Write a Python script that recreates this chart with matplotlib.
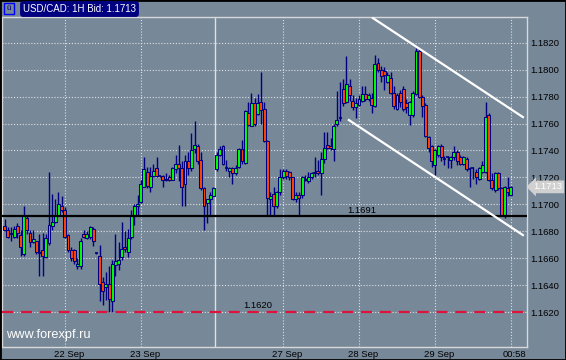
import matplotlib
matplotlib.use("Agg")
import matplotlib.pyplot as plt
from matplotlib.patches import Rectangle
from matplotlib.transforms import ScaledTranslation, blended_transform_factory
import numpy as np

plt.rcParams['font.family'] = ['Liberation Sans', 'DejaVu Sans']

# hourly bars, USD/CAD bid
opens = [1.1684, 1.1681, 1.1678, 1.1676, 1.1684, 1.1677, 1.1663, 1.1690, 1.1679, 1.1672,
         1.1673, 1.1664, 1.1666, 1.1661, 1.1671, 1.1684, 1.1687, 1.1692, 1.1699, 1.1696,
         1.1677, 1.1666, 1.1666, 1.1654, 1.1654, 1.1678, 1.1675,
         1.1676, 1.1682, 1.1664, 1.1662, 1.1642, 1.1639, 1.1641, 1.1628, 1.1655, 1.1656,
         1.1661, 1.1668, 1.1665, 1.1676, 1.1692, 1.1699, 1.1702, 1.1713, 1.1724, 1.1713,
         1.1721, 1.1727, 1.1721, 1.1721, 1.1718, 1.1720, 1.1718, 1.1726,
         1.1730, 1.1727, 1.1715, 1.1732, 1.1727, 1.1741, 1.1743, 1.1733, 1.1712, 1.1701,
         1.1704, 1.1706, 1.1726, 1.1737, 1.1743, 1.1727, 1.1725, 1.1727, 1.1723, 1.1728,
         1.1741, 1.1731, 1.1768, 1.1758, 1.1775, 1.1767, 1.1776, 1.1771, 1.1747,
         1.1704, 1.1708, 1.1699, 1.1709, 1.1720, 1.1725, 1.1724, 1.1720, 1.1704, 1.1707,
         1.1707, 1.1719, 1.1717, 1.1720, 1.1723, 1.1725, 1.1723, 1.1734, 1.1744, 1.1743,
         1.1741, 1.1760, 1.1764, 1.1786, 1.1776, 1.1788,
         1.1777, 1.1772, 1.1774, 1.1777, 1.1782, 1.1778, 1.1779, 1.1773, 1.1805, 1.1800,
         1.1799, 1.1791, 1.1794, 1.1783, 1.1771, 1.1783, 1.1786, 1.1775, 1.1766, 1.1766,
         1.1782, 1.1814, 1.1780, 1.1774, 1.1750, 1.1743, 1.1729, 1.1737,
         1.1743, 1.1734, 1.1735, 1.1733, 1.1735, 1.1739, 1.1735, 1.1730, 1.1734, 1.1726,
         1.1727, 1.1724, 1.1719, 1.1724, 1.1724, 1.1766, 1.1718, 1.1711, 1.1723, 1.1712,
         1.1692, 1.1712, 1.1707]
highs = [1.1689, 1.1683, 1.1683, 1.1684, 1.1686, 1.1681, 1.1699, 1.1691, 1.1681, 1.1681,
         1.1673, 1.1678, 1.1679, 1.1678, 1.1724, 1.1708, 1.1704, 1.1709, 1.1706, 1.1698,
         1.1678, 1.1668, 1.1667, 1.1660, 1.1675, 1.1681, 1.1680,
         1.1684, 1.1683, 1.16645, 1.1670, 1.1646, 1.1650, 1.1654, 1.1659, 1.1678, 1.1672,
         1.1687, 1.1680, 1.1682, 1.1696, 1.1700, 1.1707, 1.1718, 1.1735, 1.1728, 1.1728,
         1.1730, 1.1735, 1.1722, 1.1722, 1.1723, 1.1722, 1.1728, 1.1737,
         1.1744, 1.1732, 1.1737, 1.1739, 1.1753, 1.1762, 1.1745, 1.1739, 1.1713, 1.1704,
         1.1709, 1.1713, 1.1739, 1.1743, 1.1744, 1.1733, 1.1728, 1.1728, 1.1729, 1.1742,
         1.1748, 1.1770, 1.1776, 1.1783, 1.1779, 1.1782, 1.1798, 1.1776, 1.1748,
         1.1709, 1.1713, 1.1710, 1.1726, 1.1726, 1.1726, 1.1725, 1.1720, 1.1709, 1.1709,
         1.1721, 1.1722, 1.1724, 1.1724, 1.1735, 1.1733, 1.1739, 1.1754, 1.1754, 1.1749,
         1.1760, 1.1784, 1.1791, 1.1793, 1.1810, 1.1793,
         1.1781, 1.1779, 1.1781, 1.1788, 1.1788, 1.1783, 1.1783, 1.1811, 1.1809, 1.1803,
         1.1802, 1.1798, 1.1798, 1.1788, 1.1783, 1.1785, 1.1788, 1.1778, 1.1777, 1.1784,
         1.1816, 1.1816, 1.1781, 1.1775, 1.1751, 1.1744, 1.1741, 1.1744,
         1.1745, 1.1736, 1.1736, 1.1736, 1.1743, 1.1740, 1.1737, 1.1736, 1.1735, 1.1728,
         1.1728, 1.1726, 1.1728, 1.1732, 1.1776, 1.1768, 1.1723, 1.1724, 1.1724, 1.1713,
         1.1714, 1.1720, 1.1714]
lows = [1.1680, 1.1675, 1.1673, 1.1675, 1.1675, 1.1662, 1.1662, 1.1678, 1.1668, 1.1671,
        1.1663, 1.1647, 1.1647, 1.1660, 1.1670, 1.1681, 1.1686, 1.1691, 1.1694, 1.1675,
        1.1665, 1.1658, 1.1656, 1.1652, 1.1652, 1.1675, 1.1674,
        1.1674, 1.1669, 1.1663, 1.1628, 1.1625, 1.1629, 1.1620, 1.1620, 1.1647, 1.1651,
        1.1659, 1.1665, 1.1661, 1.1674, 1.1685, 1.1692, 1.1701, 1.1713, 1.1712, 1.1709,
        1.1720, 1.1720, 1.1720, 1.1713, 1.1717, 1.1717, 1.1718, 1.1723,
        1.1717, 1.1699, 1.1699, 1.1722, 1.1725, 1.1738, 1.1730, 1.1711, 1.1681, 1.1686,
        1.1691, 1.1706, 1.1725, 1.1736, 1.1729, 1.1725, 1.1720, 1.1715, 1.1722, 1.1727,
        1.1730, 1.1730, 1.1758, 1.1758, 1.1758, 1.1766, 1.1760, 1.1746, 1.1691,
        1.1691, 1.1691, 1.1697, 1.1707, 1.1719, 1.1719, 1.1718, 1.1703, 1.1702, 1.1691,
        1.1705, 1.1717, 1.1716, 1.1719, 1.1720, 1.1722, 1.1707, 1.1731, 1.1741, 1.1740,
        1.1732, 1.1758, 1.1762, 1.1773, 1.1775, 1.1777,
        1.1770, 1.1764, 1.1773, 1.1776, 1.1777, 1.1777, 1.1768, 1.1772, 1.1798, 1.1791,
        1.1785, 1.1790, 1.1782, 1.1771, 1.1770, 1.1772, 1.1769, 1.1768, 1.1759, 1.1765,
        1.1781, 1.1779, 1.1765, 1.1750, 1.1739, 1.1728, 1.1722, 1.1735,
        1.1732, 1.1729, 1.1727, 1.1727, 1.1733, 1.1729, 1.1729, 1.1729, 1.1725, 1.1713,
        1.1719, 1.1715, 1.1718, 1.1723, 1.1723, 1.1717, 1.1711, 1.1709, 1.1711, 1.1691,
        1.1690, 1.1706, 1.1706]
closes = [1.1681, 1.1676, 1.1679, 1.1682, 1.1679, 1.1668, 1.1691, 1.1681, 1.1672, 1.1674,
          1.1665, 1.1665, 1.1662, 1.1675, 1.1685, 1.1687, 1.1691, 1.1700, 1.1696, 1.1676,
          1.1666, 1.1660, 1.1658, 1.1656, 1.1673, 1.1676, 1.1678,
          1.1683, 1.1673, 1.1664, 1.1641, 1.1636, 1.1641, 1.1630, 1.1656, 1.1658, 1.1659,
          1.1667, 1.1667, 1.1675, 1.1692, 1.1699, 1.1700, 1.1715, 1.1726, 1.1714, 1.1721,
          1.1725, 1.1721, 1.1721, 1.1718, 1.1719, 1.1718, 1.1727, 1.1730,
          1.1727, 1.1713, 1.1732, 1.1727, 1.1740, 1.1744, 1.1732, 1.1712, 1.1699, 1.1704,
          1.1707, 1.1712, 1.1737, 1.1741, 1.1730, 1.1727, 1.1727, 1.1723, 1.1727, 1.1741,
          1.1732, 1.1769, 1.1759, 1.1775, 1.1760, 1.1775, 1.1770, 1.1747, 1.1705,
          1.1706, 1.1699, 1.1709, 1.1720, 1.1725, 1.1721, 1.1720, 1.1704, 1.1707, 1.1705,
          1.1720, 1.1718, 1.1720, 1.1723, 1.1724, 1.1723, 1.1734, 1.1742, 1.1742, 1.1742,
          1.1758, 1.1763, 1.1765, 1.1775, 1.1789, 1.1781,
          1.1772, 1.1775, 1.1778, 1.1782, 1.1778, 1.1781, 1.1774, 1.1804, 1.1800, 1.1795,
          1.1796, 1.1796, 1.1783, 1.1773, 1.1781, 1.1776, 1.1771, 1.1772, 1.1776, 1.1783,
          1.1814, 1.1780, 1.1773, 1.1751, 1.1742, 1.1732, 1.1740, 1.1743,
          1.1735, 1.1734, 1.1735, 1.1735, 1.1739, 1.1732, 1.1730, 1.1735, 1.1726, 1.1726,
          1.1727, 1.1720, 1.1727, 1.1729, 1.1765, 1.1718, 1.1712, 1.1723, 1.1712, 1.1692,
          1.1713, 1.1709, 1.1713]

date_idx = [19, 43, 88, 112, 136, 160]
date_labels = ["22 Sep", "23 Sep", "27 Sep", "28 Sep", "29 Sep", "00:58"]
week_sep = 66.5

price_ticks = [1.1620, 1.1640, 1.1660, 1.1680, 1.1700, 1.1720, 1.1740, 1.1760, 1.1780, 1.1800, 1.1820]
support = 1.1691
low_line = 1.1620
bid = 1.1713

# regression channel ends: (bar, price)
chan_upper_x = [116.4, 163.8]
chan_upper_y = [1.18383, 1.17648]
chan_lower_x = [108.8, 163.8]
chan_lower_y = [1.17626, 1.16772]

bg = '#778899'
navy = '#000080'

fig = plt.figure(figsize=(5.66, 3.6), dpi=100, facecolor=bg)
ax = fig.add_axes([2/566, 13/360, 525/566, 330/360], facecolor=bg)

n = len(opens)
x = np.arange(n)
o = np.array(opens); h = np.array(highs); l = np.array(lows); c = np.array(closes)

ax.vlines(x, l, h, color=navy, lw=1.0, zorder=3)
up = c > o
down = c < o
flat = ~(up | down)
ax.bar(x[up], c[up] - o[up], bottom=o[up], width=0.92, color='#00ff00',
       edgecolor=navy, linewidth=0.75, zorder=4)
ax.bar(x[down], c[down] - o[down], bottom=o[down], width=0.92, color='#ff4500',
       edgecolor=navy, linewidth=0.75, zorder=4)
ax.hlines(o[flat], x[flat] - 0.5, x[flat] + 0.5, color=navy, lw=1.2, zorder=4)

# horizontal lines
ax.axhline(support, color='black', lw=1.6, zorder=6)
ax.axhline(low_line, color='#dc143c', lw=1.6, dashes=(5, 3.5), zorder=6)
ax.text(113, support + 0.00012, "%.4f" % support, fontsize=6.8, ha='center', va='bottom', zorder=7)
ax.text(80, low_line + 0.00012, "%.4f" % low_line, fontsize=6.8, ha='center', va='bottom', zorder=7)

# channel
ax.plot(chan_upper_x, chan_upper_y, color='white', lw=1.6, zorder=6)
ax.plot(chan_lower_x, chan_lower_y, color='white', lw=1.6, zorder=6)

# week separator
ax.axvline(week_sep, color='#e0e0e0', lw=1.0, zorder=1)

ax.set_xlim(-0.85, 165.1)
ax.set_ylim(1.15941, 1.18391)

ax.set_yticks(price_ticks)
ax.set_yticklabels(["%.4f" % p for p in price_ticks])
ax.yaxis.tick_right()
ax.set_xticks(date_idx)
ax.set_xticklabels(date_labels)
ax.tick_params(length=0, labelsize=6.8, colors='black', pad=2.2)
for lab in ax.get_xticklabels():
    lab.set_transform(lab.get_transform() + ScaledTranslation(4/100, 0, fig.dpi_scale_trans))
ax.grid(True, color='#e0e0e0', linestyle=(0, (1, 1.6)), lw=0.8, zorder=0)
ax.set_axisbelow(True)
for sp in ax.spines.values():
    sp.set_color('#d8d8d8')
    sp.set_linewidth(1.0)

# current bid marker
tr = blended_transform_factory(ax.transAxes, ax.transData)
ax.text(1.012, bid, "%.4f" % bid, transform=tr, fontsize=6.8, color='white',
        va='center', ha='left',
        bbox=dict(boxstyle='larrow,pad=0.2', fc='#d0d0d0', ec='none'), zorder=8, clip_on=False)

ax.text(0.008, 0.018, "www.forexpf.ru", transform=ax.transAxes, fontsize=9.2,
        color='white', ha='left', va='bottom', zorder=8)

# title badge
fig.text(23/566, 1 - 9/360, "USD/CAD: 1H Bid: 1.1713", fontsize=7, color='white',
         ha='left', va='center',
         bbox=dict(boxstyle='round,pad=0.3,rounding_size=0.3', fc=navy, ec='none'))
fig.patches.append(Rectangle((4/566, 1 - 14/360), 10/566, 11/360, transform=fig.transFigure,
                             fill=False, ec='#0000ff', lw=1.0))
fig.text(9/566, 1 - 8.5/360, "ū", fontsize=6, color=navy, ha='center', va='center')

fig.patches.append(Rectangle((0, 0), 1, 1, transform=fig.transFigure,
                             fill=False, ec='black', lw=2.0))

fig.savefig("out.png", dpi=100, facecolor=bg)
